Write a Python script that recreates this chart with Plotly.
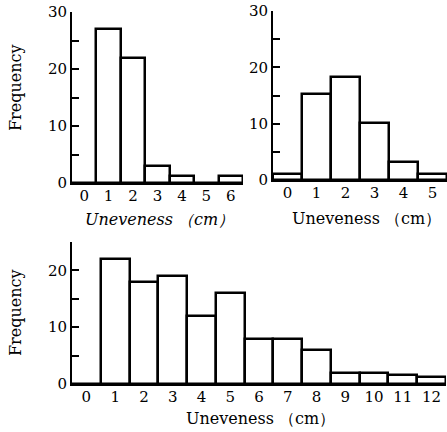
import plotly.graph_objects as go

# Data (frequency of uneveness per 1 cm class)
tl_x = [0, 1, 2, 3, 4, 5, 6]
tl_y = [0, 27, 22, 3, 1.3, 0, 1.3]

tr_x = [0, 1, 2, 3, 4, 5]
tr_y = [1, 15.2, 18.3, 10.2, 3.2, 1.1]

bt_x = [0, 1, 2, 3, 4, 5, 6, 7, 8, 9, 10, 11, 12]
bt_y = [0, 22, 18, 19, 12, 16, 8, 8, 6, 2, 2, 1.5, 1.3]

y_tick_top = [0, 5, 10, 15, 20, 25, 30]
y_text_top = ["0", "", "10", "", "20", "", "30"]
y_tick_bot = [0, 5, 10, 15, 20, 25]
y_text_bot = ["0", "", "10", "", "20", ""]

W, H = 447, 432
FONT = "DejaVu Serif"

def bar(x, y, xa, ya):
    return go.Bar(x=x, y=y, width=1, xaxis=xa, yaxis=ya,
                  marker=dict(color="white", line=dict(color="black", width=2.5)),
                  showlegend=False, hoverinfo="skip")

fig = go.Figure()
fig.add_trace(bar(tl_x, tl_y, "x", "y"))
fig.add_trace(bar(tr_x, tr_y, "x2", "y2"))
fig.add_trace(bar(bt_x, bt_y, "x3", "y3"))

def px_x(p):
    return p / W

def px_y(p):
    return 1 - p / H

xcommon = dict(showgrid=False, zeroline=False, showline=True, linecolor="black",
               linewidth=2, ticks="", automargin=False, ticklabelstandoff=-2,
               tickfont=dict(family=FONT, size=15, color="black"),
               tickmode="array")
ycommon = dict(showgrid=False, zeroline=False, showline=True, linecolor="black",
               linewidth=2, ticks="inside", ticklen=7, tickwidth=2, tickcolor="black",
               automargin=False,
               tickfont=dict(family=FONT, size=15, color="black"), tickmode="array")

fig.update_layout(
    width=W, height=H, margin=dict(l=0, r=0, t=0, b=0, pad=0), autosize=False,
    paper_bgcolor="white", plot_bgcolor="white", bargap=0, showlegend=False,
    xaxis=dict(xcommon, domain=[px_x(72), px_x(243)], range=[-0.5, 6.5],
               tickvals=tl_x, ticktext=[str(v) for v in tl_x], anchor="y"),
    yaxis=dict(ycommon, domain=[px_y(183), px_y(12)], range=[0, 30],
               tickvals=y_tick_top, ticktext=y_text_top, anchor="x"),
    xaxis2=dict(xcommon, domain=[px_x(273), px_x(447)], range=[-0.5, 5.5],
                tickvals=tr_x, ticktext=[str(v) for v in tr_x], anchor="y2"),
    yaxis2=dict(ycommon, domain=[px_y(180), px_y(11)], range=[0, 30],
                tickvals=y_tick_top, ticktext=y_text_top, anchor="x2"),
    xaxis3=dict(xcommon, domain=[px_x(72), px_x(446)], range=[-0.5, 12.5],
                tickvals=bt_x, ticktext=[str(v) for v in bt_x], anchor="y3"),
    yaxis3=dict(ycommon, domain=[px_y(384), px_y(242)], range=[0, 25],
                tickvals=y_tick_bot, ticktext=y_text_bot, anchor="x3"),
)

def ann(text, x, y, angle=0, italic=False, size=16):
    fig.add_annotation(text=text, x=px_x(x), y=px_y(y), xref="paper", yref="paper",
                       showarrow=False, textangle=angle, xanchor="center", yanchor="middle",
                       font=dict(family=FONT, size=size, color="black",
                                 style="italic" if italic else "normal"))

ann("Frequency", 15, 88, angle=-90)
ann("Frequency", 15, 313, angle=-90)
ann("Uneveness （cm）", 159, 219, italic=True)
ann("Uneveness （cm）", 366, 218)
ann("Uneveness （cm）", 260, 418)

fig.write_html("out.html", config={"displayModeBar": False})
